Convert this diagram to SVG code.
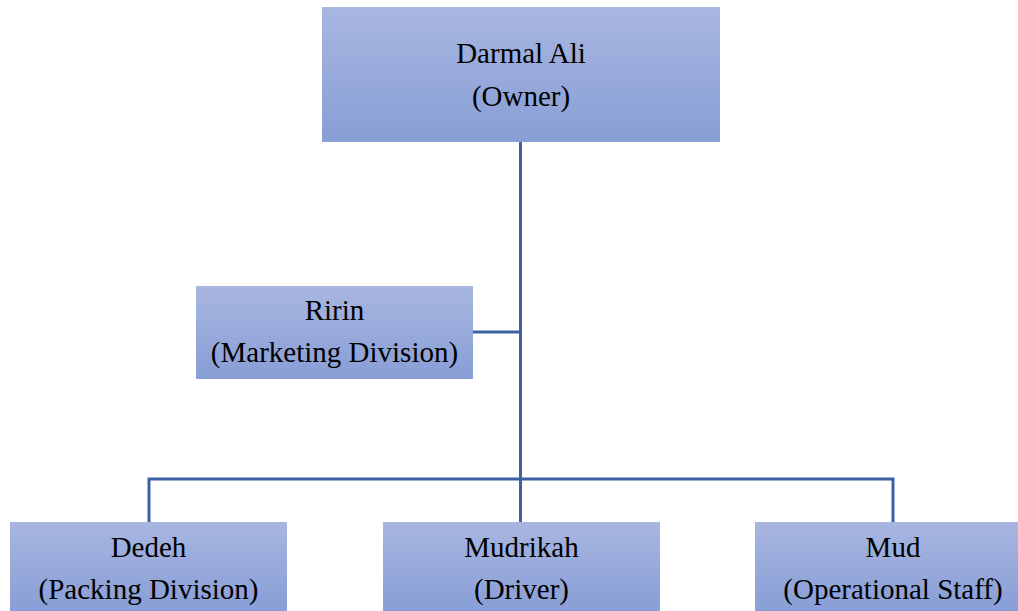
<svg xmlns="http://www.w3.org/2000/svg" width="1018" height="611" viewBox="0 0 1018 611">
<defs>
<linearGradient id="g" x1="0" y1="0" x2="0" y2="1">
<stop offset="0" stop-color="#a8b6e0"/>
<stop offset="1" stop-color="#889ed6"/>
</linearGradient>
<style>
.box{fill:url(#g);}
.t{font-family:"Liberation Serif","Times New Roman",serif;font-size:29px;fill:#000;text-anchor:middle;}
.c{stroke:#3d62a3;stroke-width:3;fill:none;}
</style>
</defs>
<rect width="1018" height="611" fill="#fff"/>
<g id="connectors">
<path class="c" d="M520.5 142 V479"/>
<path class="c" d="M473 332 H520.5"/>
<path class="c" d="M149 522 V479 H893 V522"/>
<path class="c" d="M520.5 479 V522"/>
</g>
<g id="owner">
<rect class="box" x="322" y="7" width="398" height="135"/>
<text class="t" x="521" y="63">Darmal Ali</text>
<text class="t" x="521" y="106">(Owner)</text>
</g>
<g id="ririn">
<rect class="box" x="196" y="286" width="277" height="93"/>
<text class="t" x="334.5" y="320">Ririn</text>
<text class="t" x="334.5" y="362">(Marketing Division)</text>
</g>
<g id="dedeh">
<rect class="box" x="10" y="522" width="277" height="89"/>
<text class="t" x="148.5" y="557">Dedeh</text>
<text class="t" x="148.5" y="599">(Packing Division)</text>
</g>
<g id="mudrikah">
<rect class="box" x="383" y="522" width="277" height="89"/>
<text class="t" x="521.5" y="557">Mudrikah</text>
<text class="t" x="521.5" y="599">(Driver)</text>
</g>
<g id="mud">
<rect class="box" x="755" y="522" width="263" height="89"/>
<text class="t" x="893" y="557">Mud</text>
<text class="t" x="893" y="599">(Operational Staff)</text>
</g>
</svg>
